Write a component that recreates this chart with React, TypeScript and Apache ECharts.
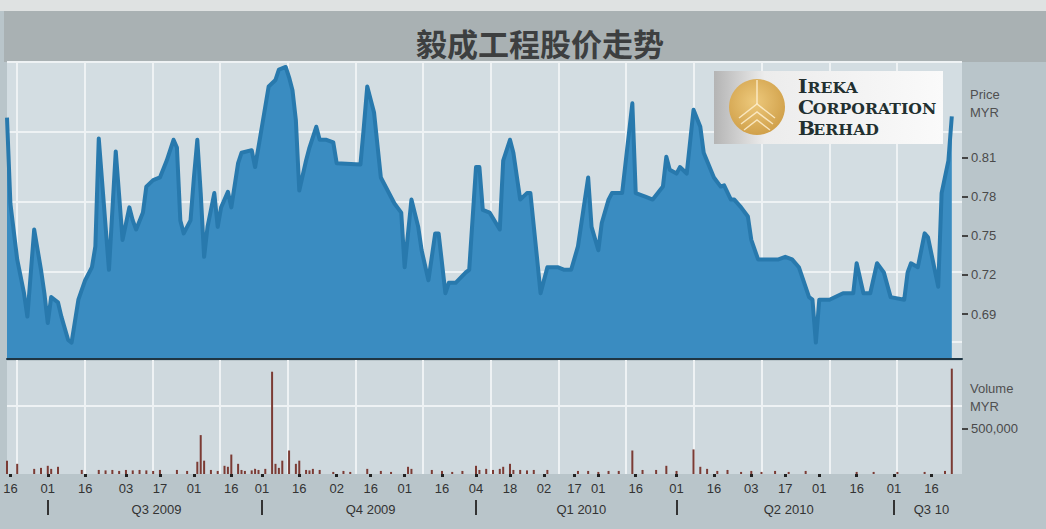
import React, { useEffect, useRef } from "react";
import * as echarts from "echarts";

const TITLE = "毅成工程股价走势";
const START_DATE = "2009-06-15";
const END_DATE = "2010-07-29";
const HOLIDAYS = [
  "2009-08-31", "2009-09-21", "2009-09-22", "2009-11-27", "2009-12-18", "2009-12-25",
  "2010-01-01", "2010-02-01", "2010-02-15", "2010-02-16", "2010-02-26", "2010-05-28",
];
const TICK_DATES = [
  "2009-06-16", "2009-07-01", "2009-07-16", "2009-08-03", "2009-08-17", "2009-09-01",
  "2009-09-16", "2009-10-01", "2009-10-16", "2009-11-02", "2009-11-16", "2009-12-01",
  "2009-12-16", "2010-01-04", "2010-01-18", "2010-02-02", "2010-02-17", "2010-03-01",
  "2010-03-16", "2010-04-01", "2010-04-16", "2010-05-03", "2010-05-17", "2010-06-01",
  "2010-06-16", "2010-07-01", "2010-07-16",
];
const QUARTER_STARTS = ["2009-07-01", "2009-10-01", "2010-01-04", "2010-04-01", "2010-07-01"];
const QUARTER_LABEL_DATES = ["2009-08-14", "2009-11-16", "2010-02-19", "2010-05-18", "2010-07-16"];
const QUARTER_LABELS = ["Q3 2009", "Q4 2009", "Q1 2010", "Q2 2010", "Q3 10"];
const PRICE_TICKS = [0.69, 0.72, 0.75, 0.78, 0.81];
const VOLUME_TICKS = [500000];
const LOGO_INITIALS = ["I", "C", "B"];
const LOGO_RESTS = ["REKA", "ORPORATION", "ERHAD"];

const PRICE: [string, number][] = [
  ["2009-06-15", 0.841], ["2009-06-16", 0.775], ["2009-06-18", 0.732], ["2009-06-22", 0.706],
  ["2009-06-23", 0.688], ["2009-06-25", 0.755], ["2009-06-29", 0.724], ["2009-06-30", 0.706],
  ["2009-07-01", 0.683], ["2009-07-02", 0.703], ["2009-07-06", 0.699], ["2009-07-07", 0.688],
  ["2009-07-09", 0.670], ["2009-07-10", 0.668], ["2009-07-14", 0.701], ["2009-07-16", 0.716],
  ["2009-07-20", 0.726], ["2009-07-21", 0.742], ["2009-07-22", 0.825], ["2009-07-27", 0.724],
  ["2009-07-29", 0.815], ["2009-07-31", 0.747], ["2009-08-04", 0.772], ["2009-08-05", 0.762],
  ["2009-08-06", 0.755], ["2009-08-10", 0.768], ["2009-08-11", 0.788], ["2009-08-13", 0.793],
  ["2009-08-17", 0.795], ["2009-08-19", 0.808], ["2009-08-21", 0.824], ["2009-08-24", 0.818],
  ["2009-08-25", 0.762], ["2009-08-26", 0.752], ["2009-08-28", 0.762], ["2009-09-01", 0.795],
  ["2009-09-02", 0.824], ["2009-09-03", 0.783], ["2009-09-04", 0.734], ["2009-09-07", 0.757],
  ["2009-09-09", 0.783], ["2009-09-10", 0.757], ["2009-09-11", 0.772], ["2009-09-15", 0.784],
  ["2009-09-16", 0.772], ["2009-09-18", 0.806], ["2009-09-23", 0.814], ["2009-09-28", 0.816],
  ["2009-09-29", 0.803], ["2009-10-01", 0.834], ["2009-10-05", 0.865], ["2009-10-07", 0.870],
  ["2009-10-08", 0.878], ["2009-10-12", 0.880], ["2009-10-13", 0.872], ["2009-10-14", 0.862],
  ["2009-10-15", 0.839], ["2009-10-16", 0.785], ["2009-10-20", 0.808], ["2009-10-21", 0.818],
  ["2009-10-23", 0.834], ["2009-10-26", 0.824], ["2009-10-28", 0.824], ["2009-10-30", 0.822],
  ["2009-11-02", 0.806], ["2009-11-11", 0.805], ["2009-11-12", 0.834], ["2009-11-13", 0.865],
  ["2009-11-17", 0.845], ["2009-11-19", 0.795], ["2009-11-23", 0.785], ["2009-11-25", 0.775],
  ["2009-11-30", 0.768], ["2009-12-01", 0.726], ["2009-12-03", 0.778], ["2009-12-07", 0.757],
  ["2009-12-08", 0.739], ["2009-12-10", 0.716], ["2009-12-14", 0.752], ["2009-12-15", 0.752],
  ["2009-12-17", 0.706], ["2009-12-21", 0.714], ["2009-12-23", 0.714], ["2009-12-29", 0.722],
  ["2009-12-30", 0.724], ["2010-01-04", 0.803], ["2010-01-05", 0.803], ["2010-01-06", 0.770],
  ["2010-01-08", 0.768], ["2010-01-13", 0.755], ["2010-01-14", 0.808], ["2010-01-18", 0.824],
  ["2010-01-19", 0.814], ["2010-01-21", 0.778], ["2010-01-25", 0.783], ["2010-01-26", 0.783],
  ["2010-01-28", 0.732], ["2010-01-29", 0.706], ["2010-02-03", 0.726], ["2010-02-08", 0.726],
  ["2010-02-10", 0.724], ["2010-02-12", 0.724], ["2010-02-18", 0.742], ["2010-02-23", 0.795],
  ["2010-02-24", 0.757], ["2010-03-01", 0.739], ["2010-03-02", 0.760], ["2010-03-04", 0.778],
  ["2010-03-05", 0.783], ["2010-03-10", 0.783], ["2010-03-15", 0.852], ["2010-03-16", 0.783],
  ["2010-03-19", 0.780], ["2010-03-23", 0.778], ["2010-03-26", 0.788], ["2010-03-29", 0.811],
  ["2010-03-30", 0.801], ["2010-04-01", 0.798], ["2010-04-02", 0.803], ["2010-04-06", 0.798],
  ["2010-04-08", 0.847], ["2010-04-12", 0.834], ["2010-04-13", 0.814], ["2010-04-16", 0.795],
  ["2010-04-20", 0.788], ["2010-04-21", 0.789], ["2010-04-23", 0.778], ["2010-04-26", 0.778],
  ["2010-04-28", 0.772], ["2010-04-30", 0.765], ["2010-05-03", 0.747], ["2010-05-05", 0.732],
  ["2010-05-07", 0.732], ["2010-05-13", 0.732], ["2010-05-17", 0.734], ["2010-05-19", 0.732],
  ["2010-05-21", 0.726], ["2010-05-26", 0.703], ["2010-05-27", 0.701], ["2010-05-31", 0.668],
  ["2010-06-01", 0.701], ["2010-06-04", 0.701], ["2010-06-10", 0.706], ["2010-06-15", 0.706],
  ["2010-06-16", 0.729], ["2010-06-18", 0.706], ["2010-06-22", 0.706], ["2010-06-24", 0.729],
  ["2010-06-28", 0.722], ["2010-06-30", 0.703], ["2010-07-06", 0.701], ["2010-07-07", 0.722],
  ["2010-07-08", 0.729], ["2010-07-12", 0.726], ["2010-07-14", 0.752], ["2010-07-15", 0.749],
  ["2010-07-20", 0.711], ["2010-07-21", 0.783], ["2010-07-23", 0.808], ["2010-07-26", 0.842],
];

const VOLUME: [string, number][] = [
  ["2009-06-15", 148000], ["2009-06-18", 113000], ["2009-06-25", 57000], ["2009-06-29", 68000],
  ["2009-07-01", 91000], ["2009-07-02", 57000], ["2009-07-06", 80000], ["2009-07-15", 45000],
  ["2009-07-22", 45000], ["2009-07-24", 40000], ["2009-07-28", 45000], ["2009-07-30", 34000],
  ["2009-08-03", 45000], ["2009-08-05", 40000], ["2009-08-07", 45000], ["2009-08-11", 40000],
  ["2009-08-13", 34000], ["2009-08-17", 45000], ["2009-08-24", 45000], ["2009-08-27", 34000],
  ["2009-09-02", 136000], ["2009-09-03", 432000], ["2009-09-04", 148000], ["2009-09-08", 45000],
  ["2009-09-10", 34000], ["2009-09-14", 91000], ["2009-09-15", 80000], ["2009-09-16", 216000],
  ["2009-09-18", 113000], ["2009-09-23", 45000], ["2009-09-24", 34000], ["2009-09-28", 40000],
  ["2009-09-29", 57000], ["2009-09-30", 45000], ["2009-10-02", 57000], ["2009-10-06", 1136000],
  ["2009-10-07", 113000], ["2009-10-08", 68000], ["2009-10-09", 148000], ["2009-10-13", 261000],
  ["2009-10-15", 113000], ["2009-10-16", 148000], ["2009-10-20", 45000], ["2009-10-21", 40000],
  ["2009-10-22", 57000], ["2009-10-26", 45000], ["2009-10-30", 23000], ["2009-11-04", 34000],
  ["2009-11-06", 23000], ["2009-11-13", 57000], ["2009-11-19", 34000], ["2009-11-24", 23000],
  ["2009-12-02", 80000], ["2009-12-03", 57000], ["2009-12-11", 45000], ["2009-12-16", 34000],
  ["2009-12-22", 23000], ["2009-12-28", 34000], ["2010-01-04", 91000], ["2010-01-05", 45000],
  ["2010-01-07", 57000], ["2010-01-11", 45000], ["2010-01-13", 57000], ["2010-01-14", 80000],
  ["2010-01-18", 113000], ["2010-01-19", 45000], ["2010-01-21", 45000], ["2010-01-25", 40000],
  ["2010-01-27", 45000], ["2010-02-03", 45000], ["2010-02-18", 34000], ["2010-02-23", 34000],
  ["2010-03-01", 23000], ["2010-03-04", 34000], ["2010-03-09", 34000], ["2010-03-15", 261000],
  ["2010-03-18", 45000], ["2010-03-24", 45000], ["2010-03-29", 91000], ["2010-04-01", 34000],
  ["2010-04-08", 273000], ["2010-04-12", 80000], ["2010-04-14", 57000], ["2010-04-19", 34000],
  ["2010-04-22", 45000], ["2010-04-28", 23000], ["2010-05-03", 34000], ["2010-05-06", 23000],
  ["2010-05-12", 34000], ["2010-05-18", 23000], ["2010-05-25", 34000], ["2010-06-16", 23000],
  ["2010-06-23", 23000], ["2010-07-02", 23000], ["2010-07-14", 23000], ["2010-07-22", 34000],
  ["2010-07-26", 1170000],
];

function buildTradingDays(start: string, end: string, holidays: string[]): string[] {
  const out: string[] = [];
  const s = Date.parse(start + "T00:00:00Z");
  const e = Date.parse(end + "T00:00:00Z");
  for (let t = s; t <= e; t += 86400000) {
    const d = new Date(t);
    const wd = d.getUTCDay();
    const iso = d.toISOString().slice(0, 10);
    if (wd === 0 || wd === 6 || holidays.includes(iso)) continue;
    out.push(iso);
  }
  return out;
}

function withCommas(v: number): string {
  return String(Math.round(v)).replace(/\B(?=(\d{3})+(?!\d))/g, ",");
}

const LABEL_FONT = "Liberation Sans";

export default function App() {
  const ref = useRef<HTMLDivElement>(null);
  useEffect(() => {
    document.body.style.margin = "0";
    if (!ref.current) return;
    const chart = echarts.init(ref.current, undefined, { renderer: "svg" });
    const days = buildTradingDays(START_DATE, END_DATE, HOLIDAYS);
    const hidden = { axisLine: { show: false }, axisTick: { show: false }, axisLabel: { show: false } };
    const initialWidths = [8.5, 13.2, 13.7];
    const sx = 1.12;
    const logoTexts: any[] = [];
    LOGO_INITIALS.forEach((ch, k) => {
      const top = 78 + k * 21;
      logoTexts.push({
        type: "text", x: 798, y: top, z: 30, scaleX: sx,
        style: {
          text: ch, verticalAlign: "top", lineHeight: 18,
          font: "bold 18px DejaVu Serif", fill: "#223030",
        },
      });
      logoTexts.push({
        type: "text", x: 798 + initialWidths[k] * sx, y: top + 3.5, z: 30, scaleX: sx,
        style: {
          text: LOGO_RESTS[k], verticalAlign: "top", lineHeight: 14,
          font: "bold 14px DejaVu Serif", fill: "#223030",
        },
      });
    });
    const option: any = {
      animation: false,
      backgroundColor: "#b9c5ca",
      title: {
        text: TITLE,
        left: 535,
        top: 22,
        textAlign: "center",
        textStyle: { fontFamily: "Noto Sans CJK SC", fontSize: 31, fontWeight: "bold", color: "#3d3f40" },
      },
      grid: [
        { left: 7, top: 62, width: 955, height: 297, show: true, backgroundColor: "#d3dde2", borderWidth: 0 },
        { left: 7, top: 361, width: 955, height: 113, show: true, backgroundColor: "#cfd9de", borderWidth: 0 },
        { left: 17, top: 62, width: 880, height: 412 },
      ],
      xAxis: [
        {
          type: "category", gridIndex: 0, data: days, boundaryGap: false, z: 5, position: "bottom",
          axisLine: { show: true, onZero: false, lineStyle: { color: "#1f3644", width: 2 } },
          axisTick: { show: false }, axisLabel: { show: false }, splitLine: { show: false },
        },
        {
          type: "category", gridIndex: 1, data: days, boundaryGap: false, position: "bottom",
          axisLine: { show: false, onZero: false },
          axisTick: {
            show: true, interval: (_i: number, v: string) => TICK_DATES.includes(v),
            length: 3, lineStyle: { width: 3, color: "#222" },
          },
          axisLabel: {
            interval: (_i: number, v: string) => TICK_DATES.includes(v),
            formatter: (v: string) => v.slice(8),
            margin: 8, fontSize: 13, color: "#333", fontFamily: LABEL_FONT,
          },
          splitLine: { show: false },
        },
        {
          type: "category", gridIndex: 1, data: days, boundaryGap: false, position: "bottom", offset: 26,
          axisLine: { show: false, onZero: false },
          axisTick: {
            show: true, interval: (_i: number, v: string) => QUARTER_STARTS.includes(v),
            length: 15, lineStyle: { width: 2, color: "#333" },
          },
          axisLabel: {
            interval: (_i: number, v: string) => QUARTER_LABEL_DATES.includes(v),
            formatter: (v: string) => QUARTER_LABELS[QUARTER_LABEL_DATES.indexOf(v)] || "",
            margin: 3, fontSize: 13, color: "#333", fontFamily: LABEL_FONT,
          },
          splitLine: { show: false },
        },
        {
          type: "value", gridIndex: 2, min: 0, max: 13, interval: 1, z: 1, ...hidden,
          splitLine: { show: true, lineStyle: { color: "#eef2f4", width: 2 } },
        },
      ],
      yAxis: [
        {
          type: "value", gridIndex: 0, position: "right", min: 0.6554, max: 0.8838,
          splitLine: { show: false }, axisLine: { show: false },
          axisTick: { show: true, customValues: PRICE_TICKS, length: 6, lineStyle: { color: "#444", width: 2 } },
          axisLabel: {
            customValues: PRICE_TICKS, formatter: (v: number) => v.toFixed(2),
            margin: 9, fontSize: 13, color: "#4a4a4a", fontFamily: LABEL_FONT,
          },
        },
        {
          type: "value", gridIndex: 0, position: "left", min: 0, max: 297, interval: 70, inverse: true, z: 1,
          ...hidden,
          splitLine: { show: true, lineStyle: { color: "#eef2f4", width: 2 } },
        },
        {
          type: "value", gridIndex: 1, position: "right", min: 0, max: 1255000,
          splitLine: { show: false }, axisLine: { show: false },
          axisTick: { show: true, customValues: VOLUME_TICKS, length: 6, lineStyle: { color: "#444", width: 2 } },
          axisLabel: {
            customValues: VOLUME_TICKS, formatter: (v: number) => withCommas(v),
            margin: 9, fontSize: 13, color: "#4a4a4a", fontFamily: LABEL_FONT,
          },
        },
        {
          type: "category", gridIndex: 1, position: "left", data: ["a", "b", "c", "d", "e", "f"],
          boundaryGap: false, inverse: true, z: 1, ...hidden,
          splitLine: { show: true, interval: (i: number) => i === 2, lineStyle: { color: "#eef2f4", width: 2 } },
        },
        { type: "value", gridIndex: 2, min: 0, max: 1, show: false },
      ],
      series: [
        {
          type: "line", name: "Price", xAxisIndex: 0, yAxisIndex: 0, data: PRICE,
          showSymbol: false, symbol: "none", z: 2,
          lineStyle: { color: "#2879ad", width: 4, join: "round" },
          areaStyle: { color: "#3a8cc1", opacity: 1 },
        },
        {
          type: "bar", name: "Volume", xAxisIndex: 1, yAxisIndex: 2, data: VOLUME,
          barWidth: 2, itemStyle: { color: "#7b3b34" }, z: 2,
        },
      ],
      graphic: [
        { type: "rect", z: -5, shape: { x: 0, y: 0, width: 1046, height: 11 }, style: { fill: "#dfe2e2" } },
        { type: "rect", z: -5, shape: { x: 4, y: 11, width: 1042, height: 51 }, style: { fill: "#a9b1b3" } },
        {
          type: "rect", z: 20, shape: { x: 714, y: 71, width: 229, height: 73 },
          style: {
            fill: new echarts.graphic.LinearGradient(0, 0, 1, 0, [
              { offset: 0, color: "#b4b4b4" },
              { offset: 0.22, color: "#ececec" },
              { offset: 1, color: "#fafafa" },
            ]),
          },
        },
        {
          type: "circle", z: 21, shape: { cx: 757, cy: 107, r: 28 },
          style: {
            fill: new echarts.graphic.RadialGradient(0.45, 0.4, 0.7, [
              { offset: 0, color: "#edc97c" },
              { offset: 1, color: "#cc9a42" },
            ]),
          },
        },
        { type: "line", z: 22, shape: { x1: 757, y1: 80, x2: 757, y2: 104 }, style: { stroke: "#fff3d6", lineWidth: 1.5, opacity: 0.8 } },
        { type: "polyline", z: 22, shape: { points: [[739, 118], [757, 104], [775, 118]] }, style: { stroke: "#fff3d6", lineWidth: 1.5, fill: null, opacity: 0.8 } },
        { type: "polyline", z: 22, shape: { points: [[741, 124], [757, 112], [773, 124]] }, style: { stroke: "#fff3d6", lineWidth: 1.5, fill: null, opacity: 0.8 } },
        { type: "polyline", z: 22, shape: { points: [[744, 130], [757, 120], [770, 130]] }, style: { stroke: "#fff3d6", lineWidth: 1.5, fill: null, opacity: 0.8 } },
        ...logoTexts,
        { type: "text", x: 970, y: 88, style: { text: "Price", font: "13px Liberation Sans", fill: "#505050" } },
        { type: "text", x: 970, y: 106, style: { text: "MYR", font: "13px Liberation Sans", fill: "#505050" } },
        { type: "text", x: 970, y: 382, style: { text: "Volume", font: "13px Liberation Sans", fill: "#505050" } },
        { type: "text", x: 970, y: 400, style: { text: "MYR", font: "13px Liberation Sans", fill: "#505050" } },
      ],
    };
    chart.setOption(option);
    return () => chart.dispose();
  }, []);
  return <div ref={ref} style={{ width: 1046, height: 529 }} />;
}
